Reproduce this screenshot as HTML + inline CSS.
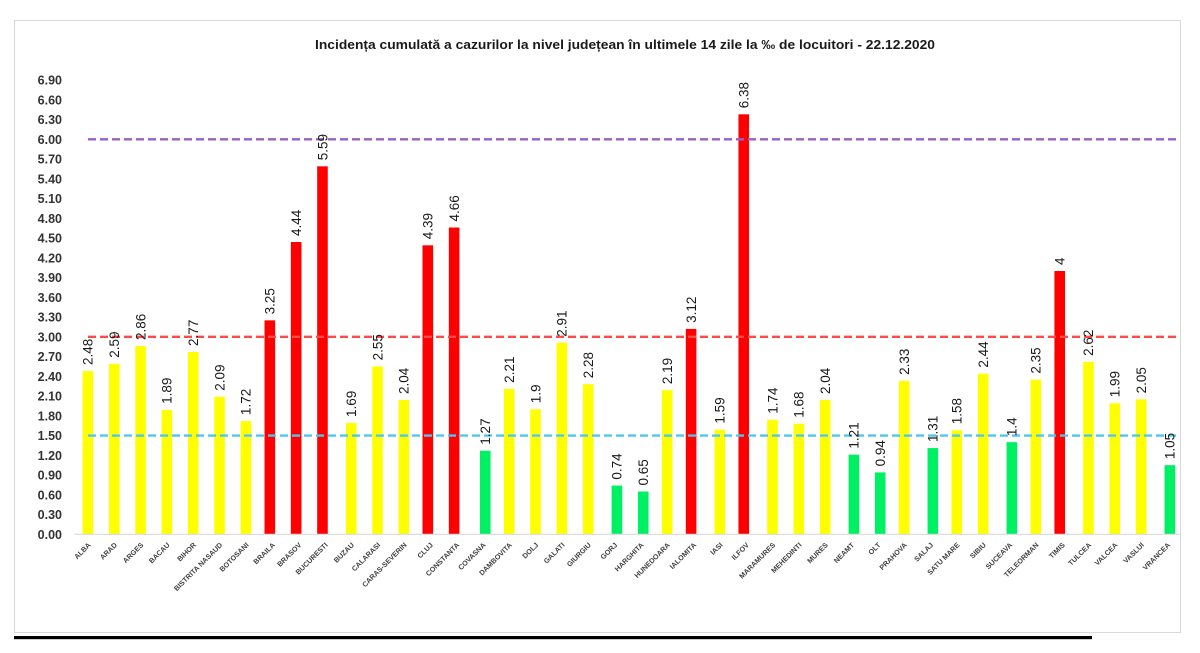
<!DOCTYPE html>
<html><head><meta charset="utf-8"><style>
html,body{margin:0;padding:0;background:#fff;}
svg{display:block;}
.yl{font:bold 12.5px "Liberation Sans",sans-serif;fill:#333;text-anchor:end;}
.vl{font:13.5px "Liberation Sans",sans-serif;fill:#1a1a1a;}
.xl{font:bold 7.2px "Liberation Sans",sans-serif;fill:#404040;text-anchor:end;}
</style></head><body>
<svg width="1200" height="653" viewBox="0 0 1200 653" xmlns="http://www.w3.org/2000/svg">
<rect x="0" y="0" width="1200" height="653" fill="#fff"/>
<rect x="14.5" y="20.5" width="1166" height="612" fill="none" stroke="#d9d9d9" stroke-width="1"/>
<text x="315" y="49" textLength="620" lengthAdjust="spacingAndGlyphs" style="font:bold 13px 'Liberation Sans',sans-serif;fill:#1a1a1a">Incidența cumulată a cazurilor la nivel județean în ultimele 14 zile la ‰ de locuitori - 22.12.2020</text>
<g>
<text class="yl" x="62" y="538.8">0.00</text>
<text class="yl" x="62" y="519.05">0.30</text>
<text class="yl" x="62" y="499.3">0.60</text>
<text class="yl" x="62" y="479.55">0.90</text>
<text class="yl" x="62" y="459.8">1.20</text>
<text class="yl" x="62" y="440.06">1.50</text>
<text class="yl" x="62" y="420.31">1.80</text>
<text class="yl" x="62" y="400.56">2.10</text>
<text class="yl" x="62" y="380.81">2.40</text>
<text class="yl" x="62" y="361.06">2.70</text>
<text class="yl" x="62" y="341.31">3.00</text>
<text class="yl" x="62" y="321.56">3.30</text>
<text class="yl" x="62" y="301.81">3.60</text>
<text class="yl" x="62" y="282.06">3.90</text>
<text class="yl" x="62" y="262.31">4.20</text>
<text class="yl" x="62" y="242.57">4.50</text>
<text class="yl" x="62" y="222.82">4.80</text>
<text class="yl" x="62" y="203.07">5.10</text>
<text class="yl" x="62" y="183.32">5.40</text>
<text class="yl" x="62" y="163.57">5.70</text>
<text class="yl" x="62" y="143.82">6.00</text>
<text class="yl" x="62" y="124.07">6.30</text>
<text class="yl" x="62" y="104.32">6.60</text>
<text class="yl" x="62" y="84.57">6.90</text>
</g>
<g>
<rect x="82.6" y="371.04" width="10.6" height="163.26" fill="#ffff00"/>
<rect x="108.93" y="363.8" width="10.6" height="170.5" fill="#ffff00"/>
<rect x="135.26" y="346.03" width="10.6" height="188.27" fill="#ffff00"/>
<rect x="161.59" y="409.88" width="10.6" height="124.42" fill="#ffff00"/>
<rect x="187.92" y="351.95" width="10.6" height="182.35" fill="#ffff00"/>
<rect x="214.25" y="396.72" width="10.6" height="137.58" fill="#ffff00"/>
<rect x="240.58" y="421.07" width="10.6" height="113.23" fill="#ffff00"/>
<rect x="264.51" y="320.35" width="10.6" height="213.95" fill="#ff0000"/>
<rect x="290.84" y="242.01" width="10.6" height="292.29" fill="#ff0000"/>
<rect x="317.17" y="166.31" width="10.6" height="367.99" fill="#ff0000"/>
<rect x="345.9" y="423.05" width="10.6" height="111.25" fill="#ffff00"/>
<rect x="372.23" y="366.43" width="10.6" height="167.87" fill="#ffff00"/>
<rect x="398.56" y="400.01" width="10.6" height="134.29" fill="#ffff00"/>
<rect x="422.49" y="245.31" width="10.6" height="288.99" fill="#ff0000"/>
<rect x="448.82" y="227.53" width="10.6" height="306.77" fill="#ff0000"/>
<rect x="479.95" y="450.7" width="10.6" height="83.6" fill="#00f064"/>
<rect x="503.88" y="388.82" width="10.6" height="145.48" fill="#ffff00"/>
<rect x="530.21" y="409.22" width="10.6" height="125.08" fill="#ffff00"/>
<rect x="556.54" y="342.73" width="10.6" height="191.57" fill="#ffff00"/>
<rect x="582.87" y="384.21" width="10.6" height="150.09" fill="#ffff00"/>
<rect x="611.6" y="485.59" width="10.6" height="48.71" fill="#00f064"/>
<rect x="637.93" y="491.51" width="10.6" height="42.79" fill="#00f064"/>
<rect x="661.86" y="390.13" width="10.6" height="144.17" fill="#ffff00"/>
<rect x="685.79" y="328.91" width="10.6" height="205.39" fill="#ff0000"/>
<rect x="714.52" y="429.63" width="10.6" height="104.67" fill="#ffff00"/>
<rect x="738.45" y="114.3" width="10.6" height="420" fill="#ff0000"/>
<rect x="767.18" y="419.76" width="10.6" height="114.54" fill="#ffff00"/>
<rect x="793.51" y="423.71" width="10.6" height="110.59" fill="#ffff00"/>
<rect x="819.84" y="400.01" width="10.6" height="134.29" fill="#ffff00"/>
<rect x="848.57" y="454.65" width="10.6" height="79.65" fill="#00f064"/>
<rect x="874.9" y="472.42" width="10.6" height="61.88" fill="#00f064"/>
<rect x="898.83" y="380.92" width="10.6" height="153.38" fill="#ffff00"/>
<rect x="927.56" y="448.06" width="10.6" height="86.24" fill="#00f064"/>
<rect x="951.49" y="430.29" width="10.6" height="104.01" fill="#ffff00"/>
<rect x="977.82" y="373.67" width="10.6" height="160.63" fill="#ffff00"/>
<rect x="1006.55" y="442.14" width="10.6" height="92.16" fill="#00f064"/>
<rect x="1030.48" y="379.6" width="10.6" height="154.7" fill="#ffff00"/>
<rect x="1054.41" y="270.98" width="10.6" height="263.32" fill="#ff0000"/>
<rect x="1083.14" y="361.83" width="10.6" height="172.47" fill="#ffff00"/>
<rect x="1109.47" y="403.3" width="10.6" height="131" fill="#ffff00"/>
<rect x="1135.8" y="399.35" width="10.6" height="134.95" fill="#ffff00"/>
<rect x="1164.53" y="465.18" width="10.6" height="69.12" fill="#00f064"/>
</g>
<line x1="74.7" y1="534.3" x2="1180.6" y2="534.3" stroke="#d9d9d9" stroke-width="1.2"/>
<line x1="88" y1="139.3" x2="1180" y2="139.3" stroke="#9b5fc8" stroke-width="2.4" stroke-dasharray="8 4"/>
<line x1="88" y1="336.8" x2="1180" y2="336.8" stroke="#ff4a4a" stroke-width="2.4" stroke-dasharray="8 4"/>
<line x1="88" y1="435.6" x2="1180" y2="435.6" stroke="#4fc6f2" stroke-width="2.4" stroke-dasharray="8 4"/>
<g>
<text class="vl" transform="translate(92.7,365.04) rotate(-90)">2.48</text>
<text class="vl" transform="translate(119.03,357.8) rotate(-90)">2.59</text>
<text class="vl" transform="translate(145.36,340.03) rotate(-90)">2.86</text>
<text class="vl" transform="translate(171.69,403.88) rotate(-90)">1.89</text>
<text class="vl" transform="translate(198.02,345.95) rotate(-90)">2.77</text>
<text class="vl" transform="translate(224.35,390.72) rotate(-90)">2.09</text>
<text class="vl" transform="translate(250.68,415.07) rotate(-90)">1.72</text>
<text class="vl" transform="translate(274.61,314.35) rotate(-90)">3.25</text>
<text class="vl" transform="translate(300.94,236.01) rotate(-90)">4.44</text>
<text class="vl" transform="translate(327.27,160.31) rotate(-90)">5.59</text>
<text class="vl" transform="translate(356.0,417.05) rotate(-90)">1.69</text>
<text class="vl" transform="translate(382.33,360.43) rotate(-90)">2.55</text>
<text class="vl" transform="translate(408.66,394.01) rotate(-90)">2.04</text>
<text class="vl" transform="translate(432.59,239.31) rotate(-90)">4.39</text>
<text class="vl" transform="translate(458.92,221.53) rotate(-90)">4.66</text>
<text class="vl" transform="translate(490.05,444.7) rotate(-90)">1.27</text>
<text class="vl" transform="translate(513.98,382.82) rotate(-90)">2.21</text>
<text class="vl" transform="translate(540.31,403.22) rotate(-90)">1.9</text>
<text class="vl" transform="translate(566.64,336.73) rotate(-90)">2.91</text>
<text class="vl" transform="translate(592.97,378.21) rotate(-90)">2.28</text>
<text class="vl" transform="translate(621.7,479.59) rotate(-90)">0.74</text>
<text class="vl" transform="translate(648.03,485.51) rotate(-90)">0.65</text>
<text class="vl" transform="translate(671.96,384.13) rotate(-90)">2.19</text>
<text class="vl" transform="translate(695.89,322.91) rotate(-90)">3.12</text>
<text class="vl" transform="translate(724.62,423.63) rotate(-90)">1.59</text>
<text class="vl" transform="translate(748.55,108.3) rotate(-90)">6.38</text>
<text class="vl" transform="translate(777.28,413.76) rotate(-90)">1.74</text>
<text class="vl" transform="translate(803.61,417.71) rotate(-90)">1.68</text>
<text class="vl" transform="translate(829.94,394.01) rotate(-90)">2.04</text>
<text class="vl" transform="translate(858.67,448.65) rotate(-90)">1.21</text>
<text class="vl" transform="translate(885.0,466.42) rotate(-90)">0.94</text>
<text class="vl" transform="translate(908.93,374.92) rotate(-90)">2.33</text>
<text class="vl" transform="translate(937.66,442.06) rotate(-90)">1.31</text>
<text class="vl" transform="translate(961.59,424.29) rotate(-90)">1.58</text>
<text class="vl" transform="translate(987.92,367.67) rotate(-90)">2.44</text>
<text class="vl" transform="translate(1016.65,436.14) rotate(-90)">1.4</text>
<text class="vl" transform="translate(1040.58,373.6) rotate(-90)">2.35</text>
<text class="vl" transform="translate(1064.51,264.98) rotate(-90)">4</text>
<text class="vl" transform="translate(1093.24,355.83) rotate(-90)">2.62</text>
<text class="vl" transform="translate(1119.57,397.3) rotate(-90)">1.99</text>
<text class="vl" transform="translate(1145.9,393.35) rotate(-90)">2.05</text>
<text class="vl" transform="translate(1174.63,459.18) rotate(-90)">1.05</text>
</g>
<g>
<text class="xl" transform="translate(91.2,545.5) rotate(-45)">ALBA</text>
<text class="xl" transform="translate(117.53,545.5) rotate(-45)">ARAD</text>
<text class="xl" transform="translate(143.86,545.5) rotate(-45)">ARGES</text>
<text class="xl" transform="translate(170.19,545.5) rotate(-45)">BACAU</text>
<text class="xl" transform="translate(196.52,545.5) rotate(-45)">BIHOR</text>
<text class="xl" transform="translate(222.85,545.5) rotate(-45)">BISTRITA NASAUD</text>
<text class="xl" transform="translate(249.18,545.5) rotate(-45)">BOTOSANI</text>
<text class="xl" transform="translate(275.51,545.5) rotate(-45)">BRAILA</text>
<text class="xl" transform="translate(301.84,545.5) rotate(-45)">BRASOV</text>
<text class="xl" transform="translate(328.17,545.5) rotate(-45)">BUCURESTI</text>
<text class="xl" transform="translate(354.5,545.5) rotate(-45)">BUZAU</text>
<text class="xl" transform="translate(380.83,545.5) rotate(-45)">CALARASI</text>
<text class="xl" transform="translate(407.16,545.5) rotate(-45)">CARAS-SEVERIN</text>
<text class="xl" transform="translate(433.49,545.5) rotate(-45)">CLUJ</text>
<text class="xl" transform="translate(459.82,545.5) rotate(-45)">CONSTANTA</text>
<text class="xl" transform="translate(486.15,545.5) rotate(-45)">COVASNA</text>
<text class="xl" transform="translate(512.48,545.5) rotate(-45)">DAMBOVITA</text>
<text class="xl" transform="translate(538.81,545.5) rotate(-45)">DOLJ</text>
<text class="xl" transform="translate(565.14,545.5) rotate(-45)">GALATI</text>
<text class="xl" transform="translate(591.47,545.5) rotate(-45)">GIURGIU</text>
<text class="xl" transform="translate(617.8,545.5) rotate(-45)">GORJ</text>
<text class="xl" transform="translate(644.13,545.5) rotate(-45)">HARGHITA</text>
<text class="xl" transform="translate(670.46,545.5) rotate(-45)">HUNEDOARA</text>
<text class="xl" transform="translate(696.79,545.5) rotate(-45)">IALOMITA</text>
<text class="xl" transform="translate(723.12,545.5) rotate(-45)">IASI</text>
<text class="xl" transform="translate(749.45,545.5) rotate(-45)">ILFOV</text>
<text class="xl" transform="translate(775.78,545.5) rotate(-45)">MARAMURES</text>
<text class="xl" transform="translate(802.11,545.5) rotate(-45)">MEHEDINTI</text>
<text class="xl" transform="translate(828.44,545.5) rotate(-45)">MURES</text>
<text class="xl" transform="translate(854.77,545.5) rotate(-45)">NEAMT</text>
<text class="xl" transform="translate(881.1,545.5) rotate(-45)">OLT</text>
<text class="xl" transform="translate(907.43,545.5) rotate(-45)">PRAHOVA</text>
<text class="xl" transform="translate(933.76,545.5) rotate(-45)">SALAJ</text>
<text class="xl" transform="translate(960.09,545.5) rotate(-45)">SATU MARE</text>
<text class="xl" transform="translate(986.42,545.5) rotate(-45)">SIBIU</text>
<text class="xl" transform="translate(1012.75,545.5) rotate(-45)">SUCEAVA</text>
<text class="xl" transform="translate(1039.08,545.5) rotate(-45)">TELEORMAN</text>
<text class="xl" transform="translate(1065.41,545.5) rotate(-45)">TIMIS</text>
<text class="xl" transform="translate(1091.74,545.5) rotate(-45)">TULCEA</text>
<text class="xl" transform="translate(1118.07,545.5) rotate(-45)">VALCEA</text>
<text class="xl" transform="translate(1144.4,545.5) rotate(-45)">VASLUI</text>
<text class="xl" transform="translate(1170.73,545.5) rotate(-45)">VRANCEA</text>
</g>
<rect x="14" y="636" width="1078" height="3.2" fill="#000"/>
</svg>
</body></html>
